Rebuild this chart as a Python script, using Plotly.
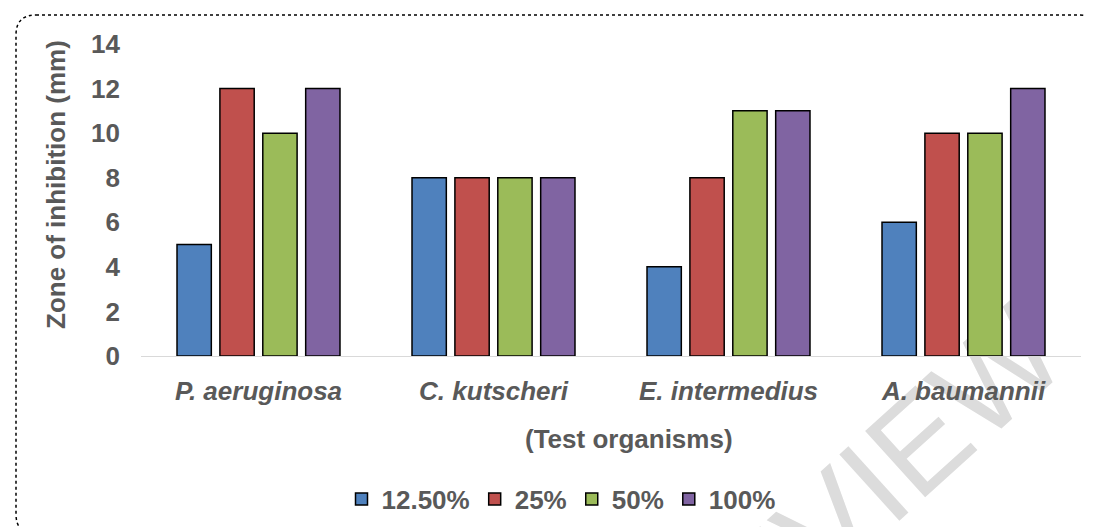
import plotly.graph_objects as go

organisms = ["P. aeruginosa", "C. kutscheri", "E. intermedius", "A. baumannii"]
series_names = ["12.50%", "25%", "50%", "100%"]
v_12_5 = [5, 8, 4, 6]
v_25 = [12, 8, 8, 10]
v_50 = [10, 8, 11, 10]
v_100 = [12, 8, 11, 12]
y_ticks = [0, 2, 4, 6, 8, 10, 12, 14]

colors = ["#4F81BD", "#C0504D", "#9BBB59", "#8064A2"]
values = [v_12_5, v_25, v_50, v_100]

W, H = 1094, 527
ML, MR, MT, MB = 133, 21, 36, 179
PW, PH = W - ML - MR, H - MT - MB


def px(x):
    return (x - ML) / PW


def py(y):
    return (H - MB - y) / PH


TXT = "#595959"
FONT = "Liberation Sans, Arial, sans-serif"
BOLD = dict(size=26, color=TXT, family=FONT, weight="bold")

fig = go.Figure()
for name, vals, col in zip(series_names, values, colors):
    fig.add_trace(go.Bar(
        x=organisms, y=vals, name=name,
        marker=dict(color=col, line=dict(color="#000000", width=1.5)),
    ))

# rounded dotted chart border
x0, x1, y0, y1 = px(8), px(1092), py(526), py(7)
rx, ry = 20 / PW, 20 / PH
path = (f"M {x0+rx},{y1} L {x1-rx},{y1} Q {x1},{y1} {x1},{y1-ry} "
        f"L {x1},{y0+ry} Q {x1},{y0} {x1-rx},{y0} L {x0+rx},{y0} "
        f"Q {x0},{y0} {x0},{y0+ry} L {x0},{y1-ry} Q {x0},{y1} {x0+rx},{y1} Z")
fig.add_shape(type="path", path=path, xref="paper", yref="paper",
              line=dict(color="#000000", width=1.5, dash="dot"), layer="above")

# faint watermark
fig.add_shape(type="line", xref="paper", yref="paper",
              x0=px(730), y0=py(582), x1=px(878), y1=py(448),
              line=dict(width=0, color="rgba(0,0,0,0)"), layer="below",
              label=dict(text="PREVIEW", textposition="middle", yanchor="middle",
                         font=dict(size=130, color="#DCDCDC", family=FONT)))

fig.add_annotation(text="Zone of inhibition (mm)", xref="paper", yref="paper",
                   x=px(48), y=py(177), textangle=-90, showarrow=False,
                   font=BOLD, xanchor="center", yanchor="middle")
fig.add_annotation(text="(Test organisms)", xref="paper", yref="paper",
                   x=px(621), y=py(431), showarrow=False,
                   font=BOLD, xanchor="center", yanchor="middle")

fig.update_layout(
    width=W, height=H,
    margin=dict(l=ML, r=MR, t=MT, b=MB, autoexpand=False),
    paper_bgcolor="white", plot_bgcolor="rgba(0,0,0,0)",
    barmode="group", bargap=0.27, bargroupgap=0.2,
    font=dict(family=FONT, color=TXT),
    showlegend=True,
    legend=dict(orientation="h", x=px(553), xanchor="center", y=py(491), yanchor="middle",
                font=BOLD, traceorder="normal", bgcolor="rgba(0,0,0,0)",
                itemclick=False),
)
fig.update_xaxes(showline=True, linecolor="#D9D9D9", linewidth=1, showgrid=False,
                 ticks="", tickfont=dict(BOLD, style="italic"),
                 ticklabelstandoff=12)
fig.update_yaxes(range=[0, 14], tickvals=y_ticks, showgrid=False, zeroline=False,
                 showline=False, ticks="", tickfont=BOLD,
                 ticklabelstandoff=20)

fig.write_html("out.html")
